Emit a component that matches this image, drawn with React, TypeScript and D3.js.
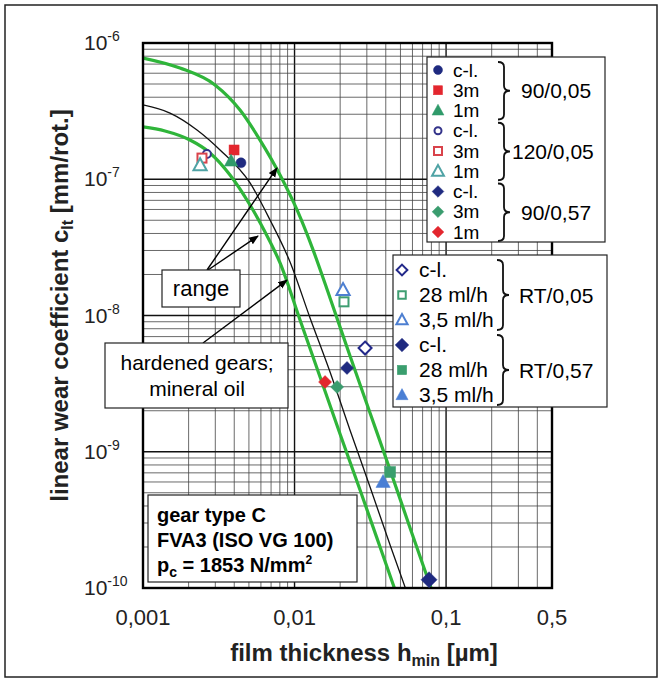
import React from "react";
import * as d3 from "d3";

// ---------- data ----------
const seriesLabels = [
  "90/0,05 c-l.", "90/0,05 3m", "90/0,05 1m",
  "120/0,05 c-l.", "120/0,05 3m", "120/0,05 1m",
  "90/0,57 c-l.", "90/0,57 3m", "90/0,57 1m",
  "RT/0,05 c-l.", "RT/0,05 28 ml/h", "RT/0,05 3,5 ml/h",
  "RT/0,57 c-l.", "RT/0,57 28 ml/h", "RT/0,57 3,5 ml/h",
];
const filmThickness = [
  0.00443, 0.00399, 0.00381,
  0.00264, 0.00245, 0.00238,
  0.0222, 0.0191, 0.0159,
  0.0292, 0.0212, 0.0209,
  0.0772, 0.0427, 0.0384,
];
const wearCoefficient = [
  1.32e-7, 1.64e-7, 1.36e-7,
  1.53e-7, 1.43e-7, 1.27e-7,
  4.12e-9, 2.99e-9, 3.25e-9,
  5.77e-9, 1.26e-8, 1.54e-8,
  1.15e-10, 7.1e-10, 6.0e-10,
];

const upperH = [0.001, 0.001754, 0.002986, 0.004368, 0.00592, 0.008024, 0.01039, 0.01325, 0.01715, 0.02324, 0.0315, 0.04271, 0.05786, 0.07962];
const upperC = [7.76e-7, 6.55e-7, 4.92e-7, 3.22e-7, 1.94e-7, 1.075e-7, 5.95e-8, 3.03e-8, 1.344e-8, 5.04e-9, 1.925e-9, 7.35e-10, 2.76e-10, 1.0e-10];
const lowerH = [0.001, 0.001397, 0.002042, 0.002769, 0.003753, 0.005085, 0.006388, 0.008024, 0.01087, 0.01474, 0.01997, 0.02706, 0.03667, 0.04607];
const lowerC = [2.42e-7, 2.26e-7, 1.94e-7, 1.56e-7, 1.075e-7, 6.47e-8, 4.1e-8, 2.43e-8, 9.27e-9, 3.54e-9, 1.35e-9, 5.24e-10, 2.0e-10, 9.67e-11];
const meanH = [0.001, 0.001507, 0.002272, 0.003224, 0.005085, 0.006893, 0.00934, 0.01266, 0.01715, 0.02324, 0.0315, 0.04271, 0.05445];
const meanC = [3.51e-7, 3.06e-7, 2.3e-7, 1.64e-7, 9.39e-8, 5.02e-8, 2.47e-8, 9.59e-9, 3.85e-9, 1.44e-9, 5.51e-10, 2.07e-10, 9.67e-11];

const xTickValues = [0.001, 0.01, 0.1, 0.5];
const xTickLabels = ["0,001", "0,01", "0,1", "0,5"];
const yTickExponents = [-6, -7, -8, -9, -10];

const legendGroupA = ["90/0,05", "120/0,05", "90/0,57"];
const legendRowsA = ["c-l.", "3m", "1m"];
const legendGroupB = ["RT/0,05", "RT/0,57"];
const legendRowsB = ["c-l.", "28 ml/h", "3,5 ml/h"];

// ---------- styles ----------
type MStyle = { shape: string; filled: boolean; color: string; size: number };
const markerStyles: Record<string, MStyle> = {
  "90/0,05 c-l.": { shape: "circle", filled: true, color: "#1f2a80", size: 10 },
  "90/0,05 3m": { shape: "square", filled: true, color: "#e3262e", size: 10 },
  "90/0,05 1m": { shape: "triangle", filled: true, color: "#2f9a6a", size: 12 },
  "120/0,05 c-l.": { shape: "circle", filled: false, color: "#33338a", size: 10 },
  "120/0,05 3m": { shape: "square", filled: false, color: "#d9434b", size: 10 },
  "120/0,05 1m": { shape: "triangle", filled: false, color: "#4fa3a5", size: 12 },
  "90/0,57 c-l.": { shape: "diamond", filled: true, color: "#1f2a80", size: 13 },
  "90/0,57 3m": { shape: "diamond", filled: true, color: "#3a9c6e", size: 13 },
  "90/0,57 1m": { shape: "diamond", filled: true, color: "#e3262e", size: 13 },
  "RT/0,05 c-l.": { shape: "diamond", filled: false, color: "#23298a", size: 15 },
  "RT/0,05 28 ml/h": { shape: "square", filled: false, color: "#3f9e72", size: 10 },
  "RT/0,05 3,5 ml/h": { shape: "triangle", filled: false, color: "#4d7fd1", size: 12 },
  "RT/0,57 c-l.": { shape: "diamond", filled: true, color: "#1f2a80", size: 16 },
  "RT/0,57 28 ml/h": { shape: "square", filled: true, color: "#3a9e6e", size: 11 },
  "RT/0,57 3,5 ml/h": { shape: "triangle", filled: true, color: "#4a7fd4", size: 13 },
};

const FONT = "'Liberation Sans', Arial, Helvetica, sans-serif";
const W = 662, H = 682;
const PL = 143, PR = 552, PT = 43, PB = 588;
const GREEN = "#2fb53a";

function Marker({ st, cx, cy, scale = 1 }: { st: MStyle; cx: number; cy: number; scale?: number }) {
  const s = st.size * scale;
  const fill = st.filled ? st.color : "white";
  const sw = st.filled ? 0.5 : 2;
  if (st.shape === "circle")
    return <circle cx={cx} cy={cy} r={s / 2 - (st.filled ? 0 : 1)} fill={fill} stroke={st.color} strokeWidth={sw} />;
  if (st.shape === "square") {
    const a = s - (st.filled ? 0 : 1);
    return <rect x={cx - a / 2} y={cy - a / 2} width={a} height={a} fill={fill} stroke={st.color} strokeWidth={sw} />;
  }
  if (st.shape === "triangle") {
    const pts = [[cx, cy - s * 0.58], [cx - s * 0.55, cy + s * 0.42], [cx + s * 0.55, cy + s * 0.42]];
    return <polygon points={pts.map((p) => p.join(",")).join(" ")} fill={fill} stroke={st.color} strokeWidth={sw} strokeLinejoin="miter" />;
  }
  const r = s / 2 - (st.filled ? 0 : 1);
  const pts = [[cx, cy - r], [cx + r, cy], [cx, cy + r], [cx - r, cy]];
  return <polygon points={pts.map((p) => p.join(",")).join(" ")} fill={fill} stroke={st.color} strokeWidth={sw} />;
}

function bracePath(x: number, y0: number, y1: number, w: number) {
  const ym = (y0 + y1) / 2;
  const r = 5;
  const xm = x + w / 2;
  return `M${x},${y0} Q${xm},${y0} ${xm},${y0 + r} L${xm},${ym - r} Q${xm},${ym} ${x + w},${ym} Q${xm},${ym} ${xm},${ym + r} L${xm},${y1 - r} Q${xm},${y1} ${x},${y1}`;
}

export default function App() {
  const x = d3.scaleLog().domain([0.001, 0.5]).range([PL, PR]);
  const y = d3.scaleLog().domain([1e-10, 1e-6]).range([PB, PT]);

  const xGrid: { v: number; major: boolean }[] = [];
  for (let e = -3; e <= -1; e++)
    for (let m = 1; m <= 9; m++) {
      const v = m * Math.pow(10, e);
      if (v > 0.5 + 1e-9) continue;
      xGrid.push({ v, major: m === 1 });
    }
  const yGrid: { v: number; major: boolean }[] = [];
  for (let e = -10; e <= -7; e++)
    for (let m = 1; m <= 9; m++) yGrid.push({ v: m * Math.pow(10, e), major: m === 1 });
  yGrid.push({ v: 1e-6, major: true });

  const line = d3
    .line<[number, number]>()
    .x((d) => x(d[0]))
    .y((d) => y(d[1]))
    .curve(d3.curveMonotoneX);
  const zip = (a: number[], b: number[]) => a.map((v, i) => [v, b[i]] as [number, number]);

  // annotation arrow targets (data space)
  const rangeTarget1: [number, number] = [0.00766, 1.21e-7];
  const rangeTarget2: [number, number] = [0.00574, 3.83e-8];
  const hardTarget: [number, number] = [0.00892, 1.82e-8];

  const legA = { x: 427, y: 57, w: 178, h: 185, row0: 70, step: 20.25 };
  const legB = { x: 393, y: 255, w: 214, h: 152, row0: 270, step: 25 };

  return (
    <svg width={W} height={H} style={{ position: "absolute", left: 0, top: 0, background: "white" }} fontFamily={FONT}>
      <defs>
        <clipPath id="plotclip">
          <rect x={PL} y={PT} width={PR - PL} height={PB - PT} />
        </clipPath>
        <marker id="arr" viewBox="0 0 10 10" refX="9" refY="5" markerWidth="7" markerHeight="7" orient="auto">
          <path d="M0,1 L10,5 L0,9 z" fill="black" />
        </marker>
      </defs>
      <rect x={5} y={5} width={652} height={672} fill="white" stroke="#222" strokeWidth={1.5} />

      {/* grid */}
      {xGrid.map((g, i) => (
        <line key={"xg" + i} x1={x(g.v)} x2={x(g.v)} y1={PT} y2={PB} stroke={g.major ? "#111" : "#444"} strokeWidth={g.major ? 1.4 : 0.8} />
      ))}
      {yGrid.map((g, i) => (
        <line key={"yg" + i} x1={PL} x2={PR} y1={y(g.v)} y2={y(g.v)} stroke={g.major ? "#111" : "#444"} strokeWidth={g.major ? 1.4 : 0.8} />
      ))}

      {/* curves */}
      <g clipPath="url(#plotclip)" fill="none">
        <path d={line(zip(meanH, meanC)) || ""} stroke="#111" strokeWidth={1.3} />
        <path d={line(zip(upperH, upperC)) || ""} stroke={GREEN} strokeWidth={3.2} />
        <path d={line(zip(lowerH, lowerC)) || ""} stroke={GREEN} strokeWidth={3.2} />
      </g>

      {/* frame */}
      <rect x={PL} y={PT} width={PR - PL} height={PB - PT} fill="none" stroke="#000" strokeWidth={2.4} />

      {/* data points */}
      {seriesLabels.map((s, i) => (
        <Marker key={s} st={markerStyles[s]} cx={x(filmThickness[i])} cy={y(wearCoefficient[i])} />
      ))}

      {/* range annotation */}
      <line x1={207} y1={270} x2={x(rangeTarget1[0])} y2={y(rangeTarget1[1])} stroke="#000" strokeWidth={1.4} markerEnd="url(#arr)" />
      <line x1={208} y1={270} x2={x(rangeTarget2[0])} y2={y(rangeTarget2[1])} stroke="#000" strokeWidth={1.4} markerEnd="url(#arr)" />
      <rect x={162} y={270} width={78} height={37} fill="white" stroke="#222" strokeWidth={1.2} />
      <text x={201} y={296} textAnchor="middle" fontSize={22}>range</text>

      {/* hardened gears annotation */}
      <line x1={203} y1={343} x2={x(hardTarget[0])} y2={y(hardTarget[1])} stroke="#000" strokeWidth={1.4} markerEnd="url(#arr)" />
      <rect x={105} y={343} width={183} height={65} fill="white" stroke="#222" strokeWidth={1.2} />
      <text x={197} y={370} textAnchor="middle" fontSize={21}>hardened gears;</text>
      <text x={197} y={396} textAnchor="middle" fontSize={21}>mineral oil</text>

      {/* gear type box */}
      <rect x={148} y={495} width={209} height={87} fill="white" stroke="#222" strokeWidth={1.2} />
      <g fontWeight="bold" fontSize={20}>
        <text x={157} y={522}>gear type C</text>
        <text x={157} y={547}>FVA3 (ISO VG 100)</text>
        <text x={157} y={572}>
          p<tspan fontSize={14} dy={5}>c</tspan>
          <tspan dy={-5}> = 1853 N/mm</tspan>
          <tspan fontSize={12} dy={-8}>2</tspan>
        </text>
      </g>

      {/* legend A */}
      <rect x={legA.x} y={legA.y} width={legA.w} height={legA.h} fill="white" stroke="#222" strokeWidth={1.2} />
      {legendGroupA.map((g, gi) => (
        <g key={g}>
          {legendRowsA.map((r, ri) => {
            const cy = legA.row0 + (gi * 3 + ri) * legA.step;
            return (
              <g key={r}>
                <Marker st={markerStyles[g + " " + r]} cx={438} cy={cy} scale={0.9} />
                <text x={453} y={cy + 6.5} fontSize={19}>{r}</text>
              </g>
            );
          })}
          <path
            d={bracePath(498, legA.row0 + gi * 3 * legA.step - 8, legA.row0 + (gi * 3 + 2) * legA.step + 9, 12)}
            fill="none" stroke="#111" strokeWidth={1.8}
          />
          <text x={gi === 1 ? 512 : 521} y={legA.row0 + (gi * 3 + 1) * legA.step + 8} fontSize={21}>{g}</text>
        </g>
      ))}

      {/* legend B */}
      <rect x={legB.x} y={legB.y} width={legB.w} height={legB.h} fill="white" stroke="#222" strokeWidth={1.2} />
      {legendGroupB.map((g, gi) => (
        <g key={g}>
          {legendRowsB.map((r, ri) => {
            const cy = legB.row0 + (gi * 3 + ri) * legB.step;
            return (
              <g key={r}>
                <Marker st={markerStyles[g + " " + r]} cx={402} cy={cy} scale={0.85} />
                <text x={419} y={cy + 7} fontSize={21}>{r}</text>
              </g>
            );
          })}
          <path
            d={bracePath(497, legB.row0 + gi * 3 * legB.step - 10, legB.row0 + (gi * 3 + 2) * legB.step + 10, 12)}
            fill="none" stroke="#111" strokeWidth={1.8}
          />
          <text x={519} y={legB.row0 + (gi * 3 + 1) * legB.step + 8} fontSize={21}>{g}</text>
        </g>
      ))}

      {/* y tick labels */}
      {yTickExponents.map((e) => (
        <text key={e} x={84} y={y(Math.pow(10, e)) + 7} fontSize={21} fill="#222">
          10<tspan fontSize={14} dy={-9}>{"-" + Math.abs(e)}</tspan>
        </text>
      ))}
      {/* x tick labels */}
      {xTickValues.map((v, i) => (
        <text key={v} x={x(v)} y={625} textAnchor="middle" fontSize={22} fill="#222">{xTickLabels[i]}</text>
      ))}

      {/* axis titles */}
      <text x={364} y={661} textAnchor="middle" fontSize={24} fontWeight="bold" fill="#222">
        film thickness h<tspan fontSize={16} dy={5}>min</tspan>
        <tspan dy={-5}> [µm]</tspan>
      </text>
      <text transform={`translate(68,${(PT + PB) / 2 - 10}) rotate(-90)`} textAnchor="middle" fontSize={24} fontWeight="bold" fill="#222">
        linear wear coefficient c<tspan fontSize={16} dy={5}>lt</tspan>
        <tspan dy={-5}> [mm/rot.]</tspan>
      </text>
    </svg>
  );
}
